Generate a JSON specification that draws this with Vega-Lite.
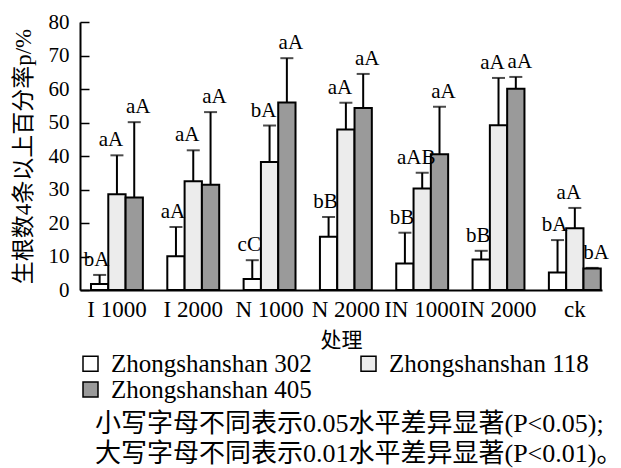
{
  "$schema": "https://vega.github.io/schema/vega-lite/v6.json",
  "autosize": {"type": "none"},
  "width": 522,
  "height": 268,
  "padding": {"left": 80, "top": 22, "right": 19, "bottom": 178},
  "background": "white",
  "data": {"values": [
    {"trt": "I 1000", "cv": "Zhongshanshan 302", "mean": 1.8, "upper": 4.5, "sig": "bA"},
    {"trt": "I 1000", "cv": "Zhongshanshan 118", "mean": 28.6, "upper": 40.2, "sig": "aA"},
    {"trt": "I 1000", "cv": "Zhongshanshan 405", "mean": 27.6, "upper": 50.1, "sig": "aA"},
    {"trt": "I 2000", "cv": "Zhongshanshan 302", "mean": 10.1, "upper": 18.8, "sig": "aA"},
    {"trt": "I 2000", "cv": "Zhongshanshan 118", "mean": 32.5, "upper": 41.7, "sig": "aA"},
    {"trt": "I 2000", "cv": "Zhongshanshan 405", "mean": 31.4, "upper": 53.1, "sig": "aA"},
    {"trt": "N 1000", "cv": "Zhongshanshan 302", "mean": 3.3, "upper": 8.9, "sig": "cC"},
    {"trt": "N 1000", "cv": "Zhongshanshan 118", "mean": 38.2, "upper": 49.1, "sig": "bA"},
    {"trt": "N 1000", "cv": "Zhongshanshan 405", "mean": 56.0, "upper": 69.2, "sig": "aA"},
    {"trt": "N 2000", "cv": "Zhongshanshan 302", "mean": 15.9, "upper": 21.8, "sig": "bB"},
    {"trt": "N 2000", "cv": "Zhongshanshan 118", "mean": 47.9, "upper": 55.9, "sig": "aA"},
    {"trt": "N 2000", "cv": "Zhongshanshan 405", "mean": 54.3, "upper": 64.5, "sig": "aA"},
    {"trt": "IN 1000", "cv": "Zhongshanshan 302", "mean": 7.9, "upper": 17.1, "sig": "bB"},
    {"trt": "IN 1000", "cv": "Zhongshanshan 118", "mean": 30.3, "upper": 35.0, "sig": "aAB"},
    {"trt": "IN 1000", "cv": "Zhongshanshan 405", "mean": 40.5, "upper": 54.7, "sig": "aA"},
    {"trt": "IN 2000", "cv": "Zhongshanshan 302", "mean": 9.1, "upper": 11.7, "sig": "bB"},
    {"trt": "IN 2000", "cv": "Zhongshanshan 118", "mean": 49.2, "upper": 63.3, "sig": "aA"},
    {"trt": "IN 2000", "cv": "Zhongshanshan 405", "mean": 60.1, "upper": 63.6, "sig": "aA"},
    {"trt": "ck", "cv": "Zhongshanshan 302", "mean": 5.2, "upper": 14.9, "sig": "bA"},
    {"trt": "ck", "cv": "Zhongshanshan 118", "mean": 18.4, "upper": 24.5, "sig": "aA"},
    {"trt": "ck", "cv": "Zhongshanshan 405", "mean": 6.4, "upper": 6.6, "sig": "bA"}
  ]},
  "encoding": {
    "x": {
      "field": "trt", "type": "nominal", "sort": null,
      "scale": {"paddingInner": 0.32, "paddingOuter": 0.08, "align": 0.9},
      "axis": {
        "title": "处理", "labelAngle": 0, "ticks": false,
        "labelFont": "Liberation Serif", "labelFontSize": 23, "labelColor": "black",
        "labelPadding": 8,
        "titleFont": "Noto Sans CJK SC", "titleFontSize": 21, "titleFontWeight": "normal",
        "titleColor": "black", "titlePadding": 8,
        "domainColor": "black", "domainWidth": 2
      }
    },
    "xOffset": {
      "field": "cv", "type": "nominal", "sort": ["Zhongshanshan 302", "Zhongshanshan 118", "Zhongshanshan 405"],
      "scale": {"paddingInner": 0, "paddingOuter": 0}
    }
  },
  "layer": [
    {
      "mark": {"type": "bar", "stroke": "black", "strokeWidth": 2},
      "encoding": {
        "y": {
          "field": "mean", "type": "quantitative",
          "scale": {"domain": [0, 80], "nice": false},
          "axis": {"title": "生根数4条以上百分率p/%", "values": [0, 10, 20, 30, 40, 50, 60, 70, 80]}
        },
        "fill": {
          "field": "cv", "type": "nominal",
          "sort": ["Zhongshanshan 302", "Zhongshanshan 118", "Zhongshanshan 405"],
          "scale": {"domain": ["Zhongshanshan 302", "Zhongshanshan 118", "Zhongshanshan 405"], "range": ["#ffffff", "#ececec", "#9a9a9a"]},
          "legend": {
            "title": null, "orient": "none", "legendX": -2, "legendY": 329,
            "direction": "horizontal", "columns": 2, "columnPadding": 44, "rowPadding": 0,
            "symbolType": "square", "symbolSize": 225, "symbolStrokeColor": "black", "symbolStrokeWidth": 1.5,
            "labelFont": "Liberation Serif", "labelFontSize": 25, "labelColor": "black",
            "labelOffset": 8, "padding": 0, "labelLimit": 400
          }
        }
      }
    },
    {
      "mark": {"type": "rule", "color": "black", "strokeWidth": 2},
      "encoding": {
        "y": {"field": "mean", "type": "quantitative", "scale": {"domain": [0, 80], "nice": false},
          "axis": {"title": "生根数4条以上百分率p/%", "values": [0, 10, 20, 30, 40, 50, 60, 70, 80]}},
        "y2": {"field": "upper"}
      }
    },
    {
      "mark": {"type": "tick", "orient": "horizontal", "color": "black", "thickness": 2, "size": 13},
      "encoding": {
        "y": {"field": "upper", "type": "quantitative", "scale": {"domain": [0, 80], "nice": false},
          "axis": {"title": "生根数4条以上百分率p/%", "values": [0, 10, 20, 30, 40, 50, 60, 70, 80]}}
      }
    },
    {
      "transform": [{"filter": "datum.cv === 'Zhongshanshan 302'"}],
      "mark": {"type": "text", "baseline": "bottom", "dy": -5, "dx": -3, "font": "Liberation Serif", "fontSize": 21, "color": "black"},
      "encoding": {
        "y": {"field": "upper", "type": "quantitative", "scale": {"domain": [0, 80], "nice": false},
          "axis": {"title": "生根数4条以上百分率p/%", "values": [0, 10, 20, 30, 40, 50, 60, 70, 80]}},
        "text": {"field": "sig"}
      }
    },
    {
      "transform": [{"filter": "datum.cv === 'Zhongshanshan 118'"}],
      "mark": {"type": "text", "baseline": "bottom", "dy": -5, "dx": -6, "font": "Liberation Serif", "fontSize": 21, "color": "black"},
      "encoding": {
        "y": {"field": "upper", "type": "quantitative", "scale": {"domain": [0, 80], "nice": false},
          "axis": {"title": "生根数4条以上百分率p/%", "values": [0, 10, 20, 30, 40, 50, 60, 70, 80]}},
        "text": {"field": "sig"}
      }
    },
    {
      "transform": [{"filter": "datum.cv === 'Zhongshanshan 405'"}],
      "mark": {"type": "text", "baseline": "bottom", "dy": -5, "dx": 4, "font": "Liberation Serif", "fontSize": 21, "color": "black"},
      "encoding": {
        "y": {"field": "upper", "type": "quantitative", "scale": {"domain": [0, 80], "nice": false},
          "axis": {"title": "生根数4条以上百分率p/%", "values": [0, 10, 20, 30, 40, 50, 60, 70, 80]}},
        "text": {"field": "sig"}
      }
    }
  ],
  "title": {
    "text": ["小写字母不同表示0.05水平差异显著(P<0.05);", "大写字母不同表示0.01水平差异显著(P<0.01)。"],
    "orient": "bottom", "anchor": "start", "align": "left", "frame": "group",
    "font": "Liberation Serif, Noto Sans CJK SC", "fontSize": 26, "fontWeight": "normal",
    "color": "black", "lineHeight": 30, "dx": 15, "offset": 8
  },
  "config": {
    "view": {"stroke": null},
    "axisY": {
      "labelOverlap": false,
      "grid": false, "tickSize": -9, "tickWidth": 1.5, "tickColor": "black",
      "labelPadding": 20,
      "labelFont": "Liberation Serif", "labelFontSize": 21, "labelColor": "black",
      "domainColor": "black", "domainWidth": 2,
      "titleFont": "Liberation Serif, Noto Sans CJK SC", "titleFontSize": 23,
      "titleFontWeight": "normal", "titleColor": "black",
      "titleX": -57, "titleBaseline": "middle"
    }
  }
}
